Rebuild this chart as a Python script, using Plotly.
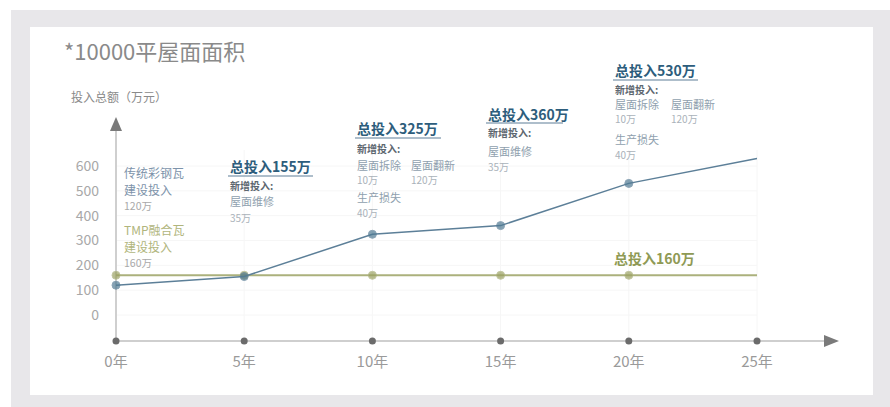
import plotly.graph_objects as go

# ---- data ----
years = [0, 5, 10, 15, 20, 25]
year_labels = ["0年", "5年", "10年", "15年", "20年", "25年"]
steel_total = [120, 155, 325, 360, 530, 630]   # 传统彩钢瓦累计投入（万元）
tmp_total = [160, 160, 160, 160, 160, 160]     # TMP融合瓦累计投入（万元）
y_ticks = [0, 100, 200, 300, 400, 500, 600]

W, H = 890, 407
L, R, T, B = 116, 838, 118, 341          # plot area in pixels
Y0_PX, PX_PER_UNIT = 315, 149 / 600      # pixel of value 0 and scale
X_PER_YEAR = (757 - 116) / 25

y_min = -(B - Y0_PX) / PX_PER_UNIT
y_max = (Y0_PX - T) / PX_PER_UNIT
x_max = (R - L) / X_PER_YEAR

FONT = "Noto Sans CJK SC"
BLUE = "#5c7f98"
BLUE_DOT = "#4f7a93"
GREEN = "#abb17c"
GREEN_DOT = "#9aa160"
TITLE_BLUE = "#2d5d7c"


def px(xp, yp):
    """pixel position -> paper coordinates"""
    return (xp - L) / (R - L), (B - yp) / (B - T)


fig = go.Figure()

# TMP line
fig.add_trace(go.Scatter(
    x=years, y=tmp_total, mode="lines+markers",
    line=dict(color=GREEN, width=2),
    marker=dict(color=GREEN_DOT, size=[8, 8, 8, 8, 8, 0]),
    hoverinfo="skip", cliponaxis=False, showlegend=False))

# steel tile line
fig.add_trace(go.Scatter(
    x=years, y=steel_total, mode="lines+markers",
    line=dict(color=BLUE, width=1.5),
    marker=dict(color=BLUE_DOT, size=[8, 8, 8, 8, 8, 0]),
    hoverinfo="skip", cliponaxis=False, showlegend=False))

# dots on the time axis
fig.add_trace(go.Scatter(
    x=years, y=[y_min] * len(years), mode="markers",
    marker=dict(color="#6b6b6b", size=7),
    hoverinfo="skip", cliponaxis=False, showlegend=False))

shapes = []


def prect(xa, ya, xb, yb, color):
    ax, ay = px(xa, ya)
    bx, by = px(xb, yb)
    shapes.append(dict(type="rect", xref="paper", yref="paper", x0=ax, y0=by, x1=bx, y1=ay,
                       fillcolor=color, line=dict(width=0), layer="below"))


def pline(xa, ya, xb, yb, color, width, layer="above"):
    ax, ay = px(xa, ya)
    bx, by = px(xb, yb)
    shapes.append(dict(type="line", xref="paper", yref="paper", x0=ax, y0=ay, x1=bx, y1=by,
                       line=dict(color=color, width=width), layer=layer))


def ptri(points, color):
    pts = [px(a, b) for a, b in points]
    path = "M " + " L ".join(f"{a:.5f},{b:.5f}" for a, b in pts) + " Z"
    shapes.append(dict(type="path", xref="paper", yref="paper", path=path,
                       fillcolor=color, line=dict(width=0)))


# outer grey frame and white panel
prect(11, 10, 890, 407, "#e8e7ea")
prect(30, 27, 873, 395, "#ffffff")

# faint grid
for yv in y_ticks:
    yp = Y0_PX - yv * PX_PER_UNIT
    pline(L, yp, 757, yp, "#f6f6f6", 1, layer="below")
for xv in years[1:]:
    xp = L + xv * X_PER_YEAR
    pline(xp, 150, xp, B, "#f6f6f6", 1, layer="below")

# axes with arrows
pline(L, B, L, 128, "#cfcfcf", 2, layer="below")
pline(L, B, 826, B, "#cfcfcf", 2, layer="below")
ptri([(110, 131), (122, 131), (116, 117)], "#7a7a7a")
ptri([(824, 335), (824, 347), (839, 341)], "#7a7a7a")

annotations = []


def text(xp, yp, s, size, color, bold=False, anchor="left"):
    ax, ay = px(xp, yp)
    annotations.append(dict(
        x=ax, y=ay, xref="paper", yref="paper", text=f"<b>{s}</b>" if bold else s,
        showarrow=False, xanchor=anchor, yanchor="middle", align="left",
        font=dict(family=FONT, size=size, color=color)))


def underline(xa, xb, yp, color="#93a8ba"):
    pline(xa, yp, xb, yp, color, 1.5)


# titles
text(62, 50, "*10000平屋面面积", 22, "#8a8a8a")
text(69, 97, "投入总额（万元）", 12, "#8a8a8a")

# left-side series labels
text(122, 172, "传统彩钢瓦", 12, "#7d93aa")
text(122, 189, "建设投入", 12, "#7d93aa")
text(122, 205, "120万", 10.5, "#a9a9a9")
text(122, 229, "TMP融合瓦", 12, "#b0b57c")
text(122, 246, "建设投入", 12, "#b0b57c")
text(122, 262, "160万", 10.5, "#a9a9a9")

SUB = "#5d6770"
ITEM = "#8f9fae"
VAL = "#aab2ba"

# 5 years
text(228, 166, f"总投入{steel_total[1]}万", 14, TITLE_BLUE, bold=True)
underline(228, 313, 176)
text(228, 185, "新增投入:", 10, SUB, bold=True)
text(228, 201, "屋面维修", 11, ITEM)
text(228, 217, "35万", 10, VAL)

# 10 years
text(355, 128, f"总投入{steel_total[2]}万", 14, TITLE_BLUE, bold=True)
underline(355, 441, 138)
text(355, 148, "新增投入:", 10, SUB, bold=True)
text(355, 165, "屋面拆除", 11, ITEM)
text(409, 165, "屋面翻新", 11, ITEM)
text(355, 179, "10万", 10, VAL)
text(409, 179, "120万", 10, VAL)
text(355, 197, "生产损失", 11, ITEM)
text(355, 212, "40万", 10, VAL)

# 15 years
text(486, 114, f"总投入{steel_total[3]}万", 14, TITLE_BLUE, bold=True)
underline(486, 563, 123)
text(486, 132, "新增投入:", 10, SUB, bold=True)
text(486, 151, "屋面维修", 11, ITEM)
text(486, 166, "35万", 10, VAL)

# 20 years
text(613, 70, f"总投入{steel_total[4]}万", 14, TITLE_BLUE, bold=True)
underline(613, 698, 80)
text(613, 89, "新增投入:", 10, SUB, bold=True)
text(613, 104, "屋面拆除", 11, ITEM)
text(669, 104, "屋面翻新", 11, ITEM)
text(613, 118, "10万", 10, VAL)
text(669, 118, "120万", 10, VAL)
text(613, 139, "生产损失", 11, ITEM)
text(613, 154, "40万", 10, VAL)

# TMP total
text(612, 258, f"总投入{tmp_total[-1]}万", 14, "#8f9a55", bold=True)

fig.update_layout(
    width=W, height=H,
    margin=dict(l=L, r=W - R, t=T, b=H - B),
    paper_bgcolor="#ffffff", plot_bgcolor="rgba(0,0,0,0)",
    shapes=shapes, annotations=annotations,
    xaxis=dict(range=[0, x_max], tickvals=years, ticktext=year_labels,
               showgrid=False, zeroline=False, showline=False, ticks="",
               ticklabelstandoff=10,
               tickfont=dict(family=FONT, size=15, color="#9a9a9a")),
    yaxis=dict(range=[y_min, y_max], tickvals=y_ticks, ticktext=[str(v) for v in y_ticks],
               showgrid=False, zeroline=False, showline=False, ticks="",
               ticklabelstandoff=16,
               tickfont=dict(family=FONT, size=14, color="#a8a8a8")),
)

fig.write_html("out.html")
